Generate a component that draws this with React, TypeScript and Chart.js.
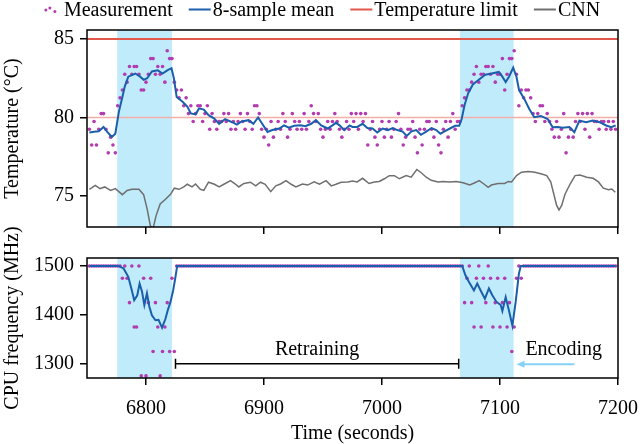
import React, { useEffect, useRef } from 'react';
import { Chart, registerables } from 'chart.js';

Chart.register(...registerables);

// ---------------- data ----------------
const X_MIN = 6750;
const X_MAX = 7200;
const X_TICKS = [6800, 6900, 7000, 7100, 7200];
const TEMP_TICKS = [75, 80, 85];
const FREQ_TICKS = [1300, 1400, 1500];
const TEMP_MIN = 73.03;
const TEMP_MAX = 85.57;
const FREQ_MIN = 1270.7;
const FREQ_MAX = 1516.4;

const TEMP_LIMIT = 85;
const TEMP_TARGET = 80;

// encoding windows, seconds
const ENCODING_START = [6775.6, 7066];
const ENCODING_END = [6822, 7111.5];

// measurement sampling
const SAMPLE_START = 6752;
const SAMPLE_PERIOD = 2;

// temperature measurements (°C), one per sample
const tempMeasured = [
  // 6752-6774
  79.25, 78.25, 79.75, 78.25, 79.25, 80.25, 80.25, 79.25, 77.75, 78.75, 78.25, 77.75,
  // 6776-6790
  80.75, 81.25, 81.75, 82.75, 82.25, 83.25, 82.75, 83.25,
  // 6792-6822
  83.25, 82.75, 81.75, 81.75, 82.25, 82.75, 83.75, 83.75, 82.75, 83.25, 82.75, 83.25, 82.25, 84.25, 83.75, 83.75,
  // 6824-6840
  82.25, 81.75, 81.25, 81.75, 80.75, 81.25, 80.25, 80.75, 79.75,
  // 6842-6862
  80.25, 80.75, 80.75, 79.75, 80.25, 80.75, 79.25, 80.25, 79.75, 79.25, 79.75,
  // 6864-6974
  79.75, 80.25, 79.75, 80.25, 79.25, 79.75, 79.25, 79.75, 80.25, 79.75,
  79.25, 80.25, 79.75, 79.25, 80.75, 80.75, 80.25, 79.25, 78.75, 79.25,
  78.25, 79.75, 78.75, 79.25, 79.75, 79.25, 80.25, 79.75, 78.75, 79.25,
  80.25, 79.75, 79.25, 79.75, 79.25, 80.25, 79.25, 79.75, 80.75, 80.25,
  79.75, 80.25, 79.25, 78.75, 79.25, 79.75, 79.25, 79.75, 80.25, 79.75,
  79.25, 78.75, 79.25, 79.75, 79.25, 80.25,
  // 6976-7064
  79.75, 80.25, 79.25, 80.25, 79.75, 80.25, 78.25, 79.25, 79.75, 78.75,
  78.25, 79.25, 79.75, 78.75, 79.25, 79.75, 78.75, 79.25, 79.75, 80.25,
  79.25, 78.25, 78.75, 79.25, 79.25, 79.75, 78.75, 77.75, 79.25, 78.25,
  79.25, 79.75, 79.75, 79.25, 78.75, 79.75, 78.25, 77.75, 79.25, 79.75,
  78.75, 79.75, 80.25, 79.25, 79.75,
  // 7066-7112
  79.75, 80.75, 81.25, 81.75, 81.75, 82.25, 82.75, 83.25, 82.25, 82.75, 82.75, 83.25,
  83.25, 82.75, 83.25, 82.25, 82.75, 82.75, 83.75, 81.75, 82.75, 83.75, 83.75, 84.25,
  // 7114-7130
  82.75, 80.75, 81.75, 81.25, 81.75, 81.75, 81.25, 80.25, 79.75,
  // 7132-7198
  80.25, 80.75, 80.75, 79.75, 80.25, 79.75, 79.25, 78.75, 79.75, 78.75,
  79.25, 80.25, 77.75, 78.75, 79.25, 78.75, 79.75, 80.25, 79.75, 80.25,
  79.25, 80.25, 78.75, 80.25, 79.75, 79.75, 79.25, 79.75, 79.75, 79.25,
  79.75, 79.25, 79.75, 79.25,
];

// CPU frequency measurements (MHz), one per sample
const freqMeasured = [
  // 6752-6774
  1500, 1500, 1500, 1500, 1500, 1500, 1500, 1500, 1500, 1500, 1500, 1500,
  // 6776-6826
  1500, 1500, 1475, 1500, 1475, 1425, 1500, 1375, 1375, 1500, 1275, 1475, 1275,
  1425, 1475, 1325, 1425, 1375, 1275, 1325, 1375, 1425, 1325, 1475, 1325, 1500,
  // 6828-7066
  1500, 1500, 1500, 1500, 1500, 1500, 1500, 1500, 1500, 1500,
  1500, 1500, 1500, 1500, 1500, 1500, 1500, 1500, 1500, 1500,
  1500, 1500, 1500, 1500, 1500, 1500, 1500, 1500, 1500, 1500,
  1500, 1500, 1500, 1500, 1500, 1500, 1500, 1500, 1500, 1500,
  1500, 1500, 1500, 1500, 1500, 1500, 1500, 1500, 1500, 1500,
  1500, 1500, 1500, 1500, 1500, 1500, 1500, 1500, 1500, 1500,
  1500, 1500, 1500, 1500, 1500, 1500, 1500, 1500, 1500, 1500,
  1500, 1500, 1500, 1500, 1500, 1500, 1500, 1500, 1500, 1500,
  1500, 1500, 1500, 1500, 1500, 1500, 1500, 1500, 1500, 1500,
  1500, 1500, 1500, 1500, 1500, 1500, 1500, 1500, 1500, 1500,
  1500, 1500, 1500, 1500, 1500, 1500, 1500, 1500, 1500, 1500,
  1500, 1500, 1500, 1500, 1500, 1500, 1500, 1500, 1500, 1500,
  // 7068-7118
  1500, 1425, 1475, 1500, 1425, 1375, 1475, 1500, 1375, 1475, 1425, 1500, 1475,
  1375, 1425, 1475, 1375, 1425, 1475, 1375, 1425, 1325, 1375, 1475, 1500, 1475,
  // 7120-7198
  1500, 1500, 1500, 1500, 1500, 1500, 1500, 1500, 1500, 1500,
  1500, 1500, 1500, 1500, 1500, 1500, 1500, 1500, 1500, 1500,
  1500, 1500, 1500, 1500, 1500, 1500, 1500, 1500, 1500, 1500,
  1500, 1500, 1500, 1500, 1500, 1500, 1500, 1500, 1500, 1500,
];

// 8-sample mean of temperature
const meanTempTime = [
  6752, 6756, 6760, 6764, 6767, 6771, 6774, 6777, 6780, 6782, 6785, 6791, 6795, 6798, 6801,
  6805, 6810, 6814, 6818, 6821.6, 6823.6, 6826, 6831, 6835, 6838, 6842, 6845, 6849, 6853,
  6857.6, 6862, 6867, 6873, 6877, 6881, 6887, 6891, 6895, 6898.5, 6903, 6907, 6913, 6917,
  6921, 6925.6, 6931, 6935, 6940, 6944, 6948.5, 6954, 6958, 6961, 6964, 6968, 6972.5, 6975,
  6979, 6983.5, 6987.6, 6992, 6996, 7000.6, 7005, 7009, 7013, 7017.5, 7021, 7025, 7029, 7033,
  7037.5, 7042, 7046, 7049.5, 7053, 7057.6, 7062, 7065.4, 7067.5, 7070, 7073, 7077, 7082,
  7087.5, 7093, 7099, 7102, 7104.8, 7107.6, 7111.2, 7114, 7116.2, 7120.5, 7124.7, 7129,
  7134.6, 7140.4, 7144.6, 7149, 7153, 7158.8, 7163, 7167.3, 7173, 7178.7, 7184.4, 7190,
  7194.3, 7198,
];
const meanTempValue = [
  79.05, 79.1, 79.12, 79.4, 79.1, 78.76, 78.97, 80.36, 81.3, 81.97, 82.6, 82.8, 82.6, 82.4, 82.5,
  82.93, 83.0, 82.8, 83.0, 83.14, 82.5, 81.3, 81.0, 80.7, 80.26, 80.2, 80.58, 80.5, 80.15,
  79.95, 79.6, 79.9, 79.7, 79.55, 79.75, 79.83, 79.6, 80.0, 79.6, 79.08, 79.2, 79.3, 79.5,
  79.35, 79.47, 79.5, 79.45, 79.6, 79.83, 79.5, 79.3, 79.5, 79.66, 79.5, 79.19, 79.5, 79.4,
  79.4, 79.6, 79.33, 79.3, 79.04, 79.3, 79.2, 79.33, 79.2, 79.1, 78.83, 79.12, 79.2, 78.9,
  79.1, 79.33, 79.2, 78.97, 79.12, 79.3, 79.47, 79.47, 79.9, 80.8, 81.54, 82.1, 82.4,
  82.72, 82.8, 82.9, 82.6, 82.26, 82.6, 83.17, 82.58, 81.73, 81.2, 80.56, 80.02,
  80.1, 79.9, 79.38, 79.4, 79.35, 79.4, 79.06, 79.8, 79.7, 79.8, 79.7, 79.49,
  79.38, 79.5,
];

// CNN temperature prediction
const cnnTime = [
  6752, 6757, 6761, 6765, 6770, 6774, 6780, 6784, 6788, 6794, 6798, 6801, 6803.7, 6806,
  6808.5, 6812, 6816.5, 6821, 6824, 6828, 6832, 6835, 6839, 6842, 6846, 6849, 6853, 6858,
  6862, 6866, 6871.6, 6876, 6878.6, 6883, 6888.5, 6893, 6897, 6901, 6905.7, 6910, 6914,
  6918.7, 6923, 6927, 6932.6, 6937, 6942.5, 6947, 6952.6, 6957, 6961, 6965.4, 6971, 6975,
  6979, 6983.5, 6989, 6993.5, 6997.7, 7002, 7006.2, 7010.5, 7014.7, 7020.5, 7024.7, 7029.5,
  7033, 7037.5, 7041.7, 7047.5, 7051.6, 7057.4, 7063, 7068.7, 7074.4, 7078.7, 7082.4, 7085.8,
  7090, 7092.7, 7098.4, 7104, 7107, 7109.8, 7114, 7118.2, 7124, 7129.6, 7135.3, 7139.6, 7143,
  7145.2, 7148, 7150, 7152.3, 7155, 7159.3, 7163.6, 7167.8, 7173.5, 7179, 7183.4, 7187.6,
  7192, 7194.7, 7197.7,
];
const cnnValue = [
  75.43, 75.68, 75.47, 75.58, 75.36, 75.47, 75.09, 75.36, 75.43, 75.43, 75.09, 74.17, 73.1, 72.93,
  73.74, 74.5, 74.8, 75.13, 75.5, 75.43, 75.58, 75.75, 75.58, 75.77, 75.43, 75.36, 75.88, 75.75,
  75.58, 75.75, 75.98, 75.75, 75.58, 75.8, 75.88, 75.65, 75.88, 75.75, 75.28, 75.65, 75.77,
  75.98, 75.75, 75.58, 75.77, 75.7, 75.9, 75.75, 75.98, 75.65, 75.75, 75.88, 75.9, 75.95,
  75.9, 76.13, 75.8, 75.9, 75.93, 76.1, 76.3, 76.3, 76.1, 76.3, 76.2, 76.69,
  76.5, 76.2, 76.0, 75.9, 75.93, 75.9, 75.93, 75.85, 75.7, 75.85, 75.98, 75.8,
  75.55, 75.7, 75.8, 75.8, 75.93, 75.9, 76.3, 76.52, 76.56, 76.52, 76.4, 76.3, 75.9,
  75.24, 74.4, 74.12, 74.4, 75.1, 75.75, 76.3, 76.34, 76.2, 76.13, 75.9, 75.5,
  75.4, 75.45, 75.24,
];

// 8-sample mean of CPU frequency
const meanFreqTime = [
  6752, 6777, 6781, 6785, 6788, 6790, 6792.6, 6794.6, 6796.6, 6798.6, 6800.8, 6802.8, 6805,
  6808, 6810.6, 6813.6, 6816.5, 6818.5, 6820.7, 6823, 6825, 6826.4, 7068, 7070.7, 7073.6,
  7077.9, 7080.7, 7083.6, 7087.2, 7090.6, 7093.5, 7096.9, 7100.6, 7102, 7104.8, 7107.6,
  7110.5, 7113.3, 7116, 7117.6, 7198,
];
const meanFreqValue = [
  1500, 1500, 1495, 1478, 1450, 1430, 1440, 1464, 1448, 1420, 1444, 1417, 1399,
  1389, 1390, 1374, 1392, 1410, 1426, 1450, 1478, 1500, 1500, 1481, 1468,
  1450, 1464, 1450, 1433, 1454, 1440, 1427, 1420, 1408, 1436, 1409,
  1378, 1427, 1484, 1500, 1500,
];

// annotations
const RETRAIN_FROM = 6825;
const RETRAIN_TO = 7065;
const RETRAIN_LEVEL = 1300;
const RETRAIN_LABEL_AT = [6945, 1328];
const ENCODING_ARROW_FROM = 7163;
const ENCODING_ARROW_TO = 7114;
const ENCODING_ARROW_LEVEL = 1299;
const ENCODING_LABEL_AT = [7154, 1328];

// ---------------- styling ----------------
const FONT = '"Liberation Serif", "Times New Roman", Times, serif';
const PURPLE = '#b23bb0';
const BLUE = '#1a5fab';
const RED = '#e2574c';
const TARGET = '#f2aea8';
const GRAY = '#6f6f6f';
const CYAN = '#c0ebfb';
const ARROW = '#86d2f6';

const pts = (t: number[], v: number[]) => t.map((x, i) => ({ x, y: v[i] }));
const sampleTimes = tempMeasured.map((_, i) => SAMPLE_START + i * SAMPLE_PERIOD);

const zeroPad = (s: any) => {
  s.paddingLeft = 0;
  s.paddingRight = 0;
  s.paddingTop = 0;
  s.paddingBottom = 0;
};

const fmt = (v: any) => String(v);

function xScale(showLabels: boolean, height: number) {
  return {
    type: 'linear',
    min: X_MIN,
    max: X_MAX,
    afterBuildTicks: (s: any) => {
      s.ticks = X_TICKS.map((value) => ({ value }));
    },
    afterFit: (s: any) => {
      s.height = height;
      zeroPad(s);
    },
    grid: { drawOnChartArea: false, drawTicks: true, tickLength: 7, lineWidth: 1.5, color: '#000' },
    border: { display: false },
    ticks: {
      display: showLabels,
      padding: 12,
      color: '#000',
      font: { family: FONT, size: 20 },
      maxRotation: 0,
      autoSkip: false,
      callback: fmt,
    },
    title: showLabels
      ? { display: true, text: 'Time (seconds)', color: '#000', font: { family: FONT, size: 20, lineHeight: 1 }, padding: 0 }
      : { display: false },
  };
}

function yScale(min: number, max: number, ticks: number[], title: string) {
  return {
    type: 'linear',
    min,
    max,
    afterBuildTicks: (s: any) => {
      s.ticks = ticks.map((value) => ({ value }));
    },
    afterFit: (s: any) => {
      s.width = 87;
      zeroPad(s);
    },
    grid: { drawOnChartArea: false, drawTicks: true, tickLength: 7, lineWidth: 1.5, color: '#000' },
    border: { display: false },
    ticks: { padding: 6, color: '#000', font: { family: FONT, size: 20 }, callback: fmt },
    title: {
      display: true,
      text: title,
      color: '#000',
      font: { family: FONT, size: 20, lineHeight: 1 },
      padding: { top: 3, bottom: 0 },
    },
  };
}

const shadePlugin = {
  id: 'shade',
  beforeDatasetsDraw(chart: any) {
    const { ctx, chartArea, scales } = chart;
    ctx.save();
    ctx.fillStyle = CYAN;
    ENCODING_START.forEach((s, i) => {
      const x1 = scales.x.getPixelForValue(s);
      const x2 = scales.x.getPixelForValue(ENCODING_END[i]);
      ctx.fillRect(x1, chartArea.top, x2 - x1, chartArea.bottom - chartArea.top);
    });
    ctx.restore();
  },
};

const framePlugin = {
  id: 'frame',
  afterDraw(chart: any) {
    const { ctx, chartArea } = chart;
    ctx.save();
    ctx.strokeStyle = '#000';
    ctx.lineWidth = 1.5;
    ctx.strokeRect(chartArea.left, chartArea.top, chartArea.right - chartArea.left, chartArea.bottom - chartArea.top);
    ctx.restore();
  },
};

const LEGEND = [
  { label: 'Measurement', color: PURPLE, kind: 'dots' },
  { label: '8-sample mean', color: BLUE, kind: 'line' },
  { label: 'Temperature limit', color: RED, kind: 'line' },
  { label: 'CNN', color: GRAY, kind: 'line' },
];

const legendPlugin = {
  id: 'customLegend',
  afterDraw(chart: any) {
    const ctx = chart.ctx;
    ctx.save();
    ctx.font = `20px ${FONT}`;
    ctx.textBaseline = 'middle';
    ctx.textAlign = 'left';
    const box = 22;
    const gap = 2;
    const spacing = 16;
    const widths = LEGEND.map((it) => box + gap + ctx.measureText(it.label).width);
    const total = widths.reduce((a, b) => a + b, 0) + spacing * (LEGEND.length - 1);
    let x = (chart.width - total) / 2;
    const y = 11;
    LEGEND.forEach((it, i) => {
      if (it.kind === 'dots') {
        ctx.fillStyle = it.color;
        const cx = x + box / 2;
        [[-5, 0], [-1, -2], [4, 1.5]].forEach(([dx, dy]) => {
          ctx.beginPath();
          ctx.arc(cx + dx, y - 1 + dy, 1.5, 0, Math.PI * 2);
          ctx.fill();
        });
      } else {
        ctx.strokeStyle = it.color;
        ctx.lineWidth = 2;
        ctx.beginPath();
        ctx.moveTo(x, y - 1.5);
        ctx.lineTo(x + box, y - 1.5);
        ctx.stroke();
      }
      ctx.fillStyle = '#000';
      ctx.fillText(it.label, x + box + gap, y);
      x += widths[i] + spacing;
    });
    ctx.restore();
  },
};

const annotationPlugin = {
  id: 'annot',
  afterDatasetsDraw(chart: any) {
    const { ctx, scales } = chart;
    const px = (v: number) => scales.x.getPixelForValue(v);
    const py = (v: number) => scales.y.getPixelForValue(v);
    ctx.save();
    // retraining bracket
    const yb = py(RETRAIN_LEVEL);
    const a = px(RETRAIN_FROM);
    const b = px(RETRAIN_TO);
    ctx.strokeStyle = '#000';
    ctx.lineWidth = 1.5;
    ctx.beginPath();
    ctx.moveTo(a, yb);
    ctx.lineTo(b, yb);
    ctx.moveTo(a, yb - 5);
    ctx.lineTo(a, yb + 5);
    ctx.moveTo(b, yb - 5);
    ctx.lineTo(b, yb + 5);
    ctx.stroke();
    ctx.font = `20px ${FONT}`;
    ctx.fillStyle = '#000';
    ctx.textAlign = 'center';
    ctx.textBaseline = 'middle';
    ctx.fillText('Retraining', px(RETRAIN_LABEL_AT[0]), py(RETRAIN_LABEL_AT[1]));
    // encoding arrow
    const ya = py(ENCODING_ARROW_LEVEL);
    const s = px(ENCODING_ARROW_FROM);
    const e = px(ENCODING_ARROW_TO);
    ctx.strokeStyle = ARROW;
    ctx.fillStyle = ARROW;
    ctx.lineWidth = 2;
    ctx.beginPath();
    ctx.moveTo(s, ya);
    ctx.lineTo(e + 6, ya);
    ctx.stroke();
    ctx.beginPath();
    ctx.moveTo(e, ya);
    ctx.lineTo(e + 8, ya - 3.5);
    ctx.lineTo(e + 8, ya + 3.5);
    ctx.closePath();
    ctx.fill();
    ctx.fillStyle = '#000';
    ctx.fillText('Encoding', px(ENCODING_LABEL_AT[0]), py(ENCODING_LABEL_AT[1]));
    ctx.restore();
  },
};

export default function App() {
  const topRef = useRef<HTMLCanvasElement>(null);
  const botRef = useRef<HTMLCanvasElement>(null);

  useEffect(() => {
    const top = new Chart(topRef.current as HTMLCanvasElement, {
      type: 'scatter',
      data: {
        datasets: [
          {
            label: 'Measurement',
            data: pts(sampleTimes, tempMeasured),
            showLine: false,
            pointRadius: 1.8,
            pointBackgroundColor: PURPLE,
            pointBorderWidth: 0,
            order: 3,
          },
          {
            label: '8-sample mean',
            data: pts(meanTempTime, meanTempValue),
            showLine: true,
            borderColor: BLUE,
            borderWidth: 2,
            pointRadius: 0,
            order: 1,
          },
          {
            label: 'Temperature limit',
            data: [{ x: X_MIN, y: TEMP_LIMIT }, { x: X_MAX, y: TEMP_LIMIT }],
            showLine: true,
            borderColor: RED,
            borderWidth: 2,
            pointRadius: 0,
            order: 4,
          },
          {
            label: 'CNN',
            data: pts(cnnTime, cnnValue),
            showLine: true,
            borderColor: GRAY,
            borderWidth: 1.5,
            pointRadius: 0,
            order: 2,
          },
          {
            label: 'Target',
            data: [{ x: X_MIN, y: TEMP_TARGET }, { x: X_MAX, y: TEMP_TARGET }],
            showLine: true,
            borderColor: TARGET,
            borderWidth: 1.5,
            pointRadius: 0,
            order: 5,
          },
        ],
      },
      options: {
        animation: false,
        responsive: false,
        devicePixelRatio: 1,
        layout: { padding: { left: 0, right: 22, top: 30, bottom: 0 } },
        plugins: { legend: { display: false }, tooltip: { enabled: false } },
        scales: {
          x: xScale(false, 13) as any,
          y: yScale(TEMP_MIN, TEMP_MAX, TEMP_TICKS, 'Temperature (°C)') as any,
        },
      },
      plugins: [shadePlugin, framePlugin, legendPlugin],
    });

    const bot = new Chart(botRef.current as HTMLCanvasElement, {
      type: 'scatter',
      data: {
        datasets: [
          {
            label: 'Measurement',
            data: pts(sampleTimes, freqMeasured),
            showLine: false,
            pointRadius: 1.8,
            pointBackgroundColor: PURPLE,
            pointBorderWidth: 0,
            order: 2,
          },
          {
            label: '8-sample mean',
            data: pts(meanFreqTime, meanFreqValue),
            showLine: true,
            borderColor: BLUE,
            borderWidth: 2,
            pointRadius: 0,
            order: 1,
          },
        ],
      },
      options: {
        animation: false,
        responsive: false,
        devicePixelRatio: 1,
        layout: { padding: { left: 0, right: 22, top: 38, bottom: 0 } },
        plugins: { legend: { display: false }, tooltip: { enabled: false } },
        scales: {
          x: xScale(true, 66) as any,
          y: yScale(FREQ_MIN, FREQ_MAX, FREQ_TICKS, 'CPU frequency (MHz)') as any,
        },
      },
      plugins: [shadePlugin, framePlugin, annotationPlugin],
    });

    return () => {
      top.destroy();
      bot.destroy();
    };
  }, []);

  return (
    <div style={{ position: 'absolute', left: 0, top: 0, width: 640, height: 444, background: '#fff' }}>
      <canvas ref={topRef} width={640} height={240} style={{ position: 'absolute', left: 0, top: 0, display: 'block' }} />
      <canvas ref={botRef} width={640} height={224} style={{ position: 'absolute', left: 0, top: 220, display: 'block' }} />
    </div>
  );
}
